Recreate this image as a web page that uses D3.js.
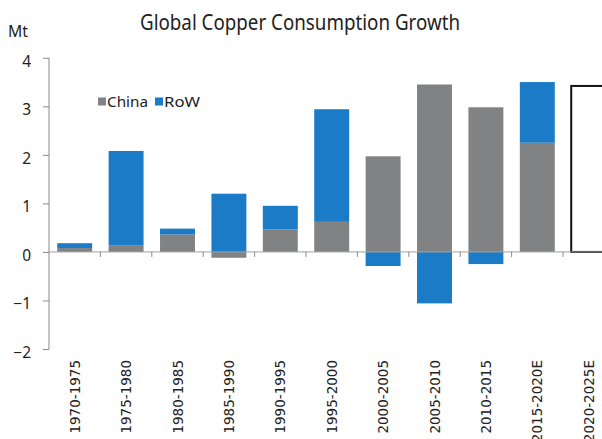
<!DOCTYPE html>
<html><head><meta charset="utf-8">
<script src="https://cdn.jsdelivr.net/npm/d3@7/dist/d3.min.js"></script>
<style>
body{margin:0;background:#fff;}
svg{display:block;}
text{font-family:"Noto Sans","Open Sans",sans-serif;fill:#222;}
</style></head>
<body>
<svg id="c" width="602" height="439"></svg>
<script>
const categories = ["1970-1975","1975-1980","1980-1985","1985-1990","1990-1995","1995-2000","2000-2005","2005-2010","2010-2015","2015-2020E","2020-2025E"];
const china = [0.08,0.14,0.36,-0.12,0.46,0.62,1.97,3.45,2.98,2.25,null];
const row   = [0.10,1.94,0.12,1.20,0.49,2.32,-0.29,-1.06,-0.25,1.25,null];
const forecastTotal = [null,null,null,null,null,null,null,null,null,null,3.42];
const yTicks = [-2,-1,0,1,2,3,4];
const colors = {china:"#808284", row:"#1b7bc6"};

const svg = d3.select("#c");
const W = 602;
const y = d3.scaleLinear().domain([-2,4]).range([349,57.8]);
const x = d3.scaleBand().domain(categories).range([49,614.4]).paddingInner(0.32).paddingOuter(0.16);
const step = x.step();

// title
svg.append("text").attr("x",140).attr("y",30)
  .attr("textLength",320).attr("lengthAdjust","spacingAndGlyphs")
  .style("font-size","21.5px").text("Global Copper Consumption Growth");
svg.append("text").attr("x",8).attr("y",37).attr("textLength",20).attr("lengthAdjust","spacingAndGlyphs")
  .style("font-size","16px").text("Mt");

// bars
const segs = [];
categories.forEach((c,i)=>{
  let pos=0, neg=0;
  [["china",china[i]],["row",row[i]]].forEach(([k,v])=>{
    if(v==null) return;
    if(v>=0){segs.push({c,k,y0:pos,y1:pos+v}); pos+=v;}
    else {segs.push({c,k,y0:neg+v,y1:neg}); neg+=v;}
  });
});
svg.append("g").selectAll("rect").data(segs).join("rect")
  .attr("x",d=>x(d.c)).attr("width",x.bandwidth())
  .attr("y",d=>y(d.y1)).attr("height",d=>y(d.y0)-y(d.y1))
  .attr("fill",d=>colors[d.k]);

// forecast box
svg.append("g").selectAll("rect").data(categories.map((c,i)=>({c,v:forecastTotal[i]})).filter(d=>d.v!=null))
  .join("rect")
  .attr("x",d=>x(d.c)).attr("width",x.bandwidth())
  .attr("y",d=>y(d.v)).attr("height",d=>y(0)-y(d.v))
  .attr("fill","#fff").attr("stroke","#111").attr("stroke-width",2);

// y axis
const ya = svg.append("g").attr("transform","translate(49,0)")
  .call(d3.axisLeft(y).tickValues(yTicks).tickSize(6).tickPadding(12).tickFormat(d3.format("d")));
ya.select(".domain").attr("stroke","#8a8a8a").attr("d",`M-0,${y(4)}V${y(-2)}`);
ya.selectAll(".tick line").attr("stroke","#8a8a8a");
ya.selectAll(".tick text").style("font-size","15.5px").attr("fill","#222").attr("dy","0.55em");

// zero line and category ticks
svg.append("line").attr("x1",49).attr("x2",W).attr("y1",y(0)).attr("y2",y(0)).attr("stroke","#a0a0a0");
svg.append("g").selectAll("line").data(categories.slice(1)).join("line")
  .attr("x1",d=>x(d)-step*0.16).attr("x2",d=>x(d)-step*0.16)
  .attr("y1",y(0)).attr("y2",y(0)+5).attr("stroke","#8a8a8a");

// x labels (last two run past the bottom edge, as in the reference)
svg.append("g").selectAll("text").data(categories).join("text")
  .attr("transform",d=>`translate(${x(d)+x.bandwidth()/2+5},360) rotate(-90)`)
  .attr("text-anchor","end")
  .style("font-size","13.5px").style("font-family","'DejaVu Sans',sans-serif")
  .text(d=>d);

// legend
const lg = svg.append("g");
[["China",colors.china,98,41],["RoW",colors.row,155,36]].forEach(([t,c,lx,tl])=>{
  lg.append("rect").attr("x",lx).attr("y",97.5).attr("width",8).attr("height",8).attr("fill",c);
  lg.append("text").attr("x",lx+9).attr("y",106.5)
    .attr("textLength",tl).attr("lengthAdjust","spacingAndGlyphs")
    .style("font-size","14px").text(t);
});
</script>
</body></html>
